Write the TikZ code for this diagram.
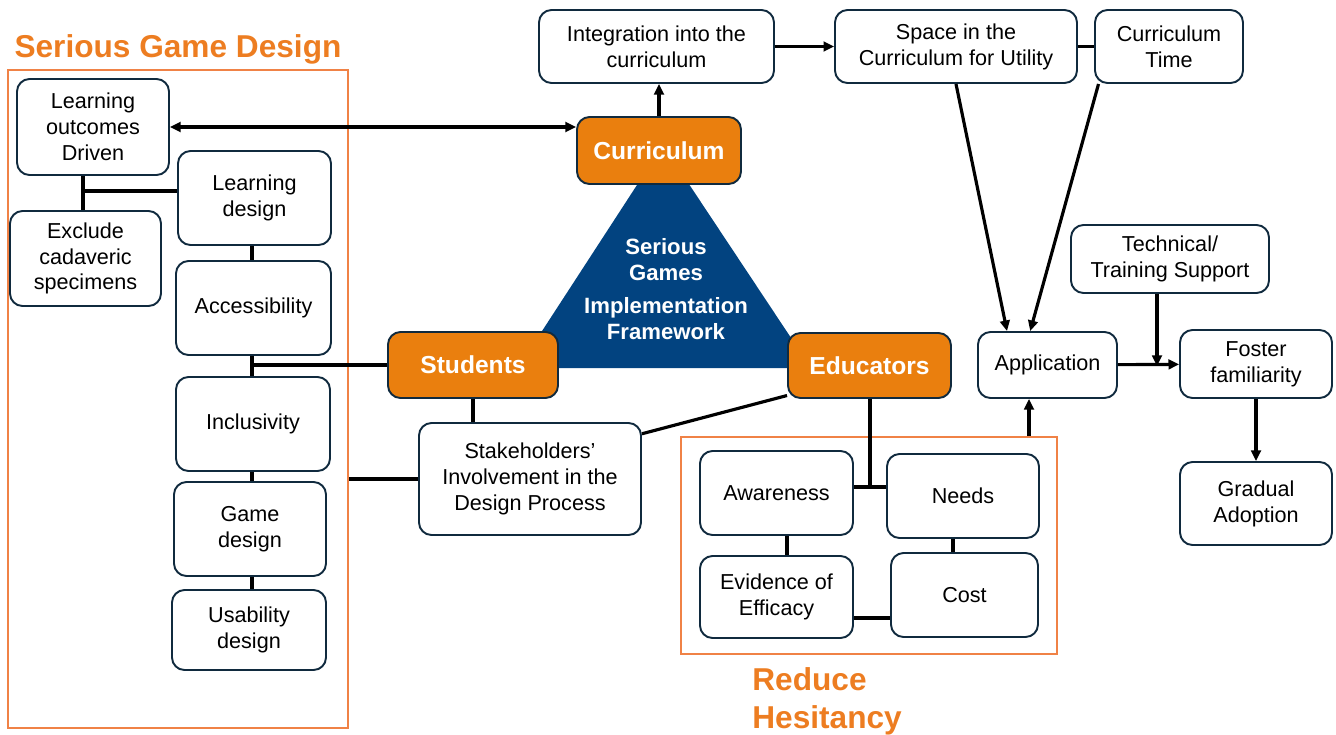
\documentclass[tikz,border=0pt]{standalone}
\usepackage{fontspec}
\setmainfont{Liberation Sans}
\usetikzlibrary{arrows.meta}
\definecolor{boxline}{RGB}{16,42,62}
\definecolor{orangefill}{RGB}{234,127,14}
\definecolor{groupline}{RGB}{240,130,70}
\definecolor{titleorange}{RGB}{237,125,33}
\definecolor{tribg}{RGB}{2,67,128}

\begin{document}
\begin{tikzpicture}[x=0.02cm, y=-0.02cm,
  wh/.style 2 args={minimum width=#1*0.02cm, minimum height=#2*0.02cm},
  box/.style={draw=boxline, line width=1.1pt, rounded corners=0.25cm, fill=white, inner sep=0pt, align=center, font=\fontsize{12.3}{14.7}\selectfont},
  key/.style={box, fill=orangefill, text=white, font=\fontsize{14}{16}\selectfont\bfseries},
  group/.style={draw=groupline, line width=1.1pt, inner sep=0pt},
  title/.style={text=titleorange, font=\fontsize{18}{21.5}\selectfont\bfseries, inner sep=0pt, align=left},
  link/.style={line width=1.8pt},
  arr/.style={link, -{Triangle[length=6pt,width=5.5pt]}}]
  \useasboundingbox (0,0) rectangle (1336,734);

  \node[group, wh={340}{658}] (sgd) at (178,399) {};
  \node[group, wh={376}{217}] (rh) at (869,545.5) {};
  \node[title, anchor=base] (sgdt) at (178,57) {Serious Game Design};
  \node[title, anchor=north west] (rht) at (752,667) {Reduce\\Hesitancy};

  \fill[tribg] (663,145) -- (811,368) -- (518,368) -- cycle;
  \node[text=white, align=center, font=\fontsize{12.6}{14.7}\selectfont\bfseries] (sgi) at (666,289) {Serious\\Games\\[4.5pt]Implementation\\Framework};

  \node[box, wh={152}{96}] (lod) at (93,127) {Learning\\outcomes\\Driven};
  \node[box, wh={151}{95}] (excl) at (85.5,258.5) {Exclude\\cadaveric\\specimens};
  \node[box, wh={153}{94}] (ldes) at (254.5,198) {Learning\\design};
  \node[box, wh={155}{94}] (acc) at (253.5,308) {Accessibility};
  \node[box, wh={154}{94}] (incl) at (253,424) {Inclusivity};
  \node[box, wh={152}{94}] (gdes) at (250,529) {Game\\design};
  \node[box, wh={154}{80}] (udes) at (249,630) {Usability\\design};

  \node[key, wh={164}{67}] (cur) at (659,150.5) {Curriculum};
  \node[key, wh={170}{66}] (stu) at (473,365) {Students};
  \node[key, wh={163}{65}] (edu) at (869.5,365.5) {Educators};
  \node[box, wh={222}{112}] (stk) at (530,479) {Stakeholders’\\Involvement in the\\Design Process};

  \node[box, wh={235}{73}] (integ) at (656.5,46.5) {Integration into the\\curriculum};
  \node[box, wh={242}{73}] (space) at (956,46.5) {Space in the\\Curriculum for Utility};
  \node[box, wh={148}{73}] (ctime) at (1169,46.5) {Curriculum\\Time};
  \node[box, wh={139}{66}] (app) at (1047.5,365) {Application};
  \node[box, wh={198}{68}] (tech) at (1170,259) {Technical/\\Training Support};
  \node[box, wh={152}{68}] (fost) at (1256,364) {Foster\\familiarity};
  \node[box, wh={152}{83}] (grad) at (1256,503.5) {Gradual\\Adoption};

  \node[box, wh={153}{84}] (awa) at (776.5,493) {Awareness};
  \node[box, wh={152}{84}] (need) at (963,496) {Needs};
  \node[box, wh={153}{82}] (evi) at (776.5,597) {Evidence of\\Efficacy};
  \node[box, wh={147}{84}] (cost) at (964.5,595) {Cost};

  \coordinate (j1) at (83,191);
  \coordinate (j2) at (252,365);
  \coordinate (j3) at (870,487);
  \coordinate (j4) at (1157,366);
  \coordinate (j5) at (1029,420);
  \coordinate (k1) at (787,545);
  \coordinate (k2) at (953,545);
  \coordinate (k3) at (870,618);

  \draw[link] (lod.south -| j1) -- (excl.north -| j1);
  \draw[link] (j1) -- (j1 -| ldes.west);
  \draw[link] (ldes.south -| j2) -- (acc.north -| j2);
  \draw[link] (acc.south -| j2) -- (incl.north -| j2);
  \draw[link] (incl.south -| j2) -- (gdes.north -| j2);
  \draw[link] (gdes.south -| j2) -- (udes.north -| j2);
  \draw[link] (j2) -- (stu.west);
  \draw[link, {Triangle[length=6pt,width=5.5pt]}-{Triangle[length=6pt,width=5.5pt]}] (lod.east) -- (lod.east -| cur.west);

  \draw[link] (stu.south) -- (stu.south |- stk.north);
  \draw[link] (stk.west) -- (stk.west -| sgd.east);
  \draw[link] (stk.22) -- (edu.200);
  \draw[link] (edu.south -| j3) -- (j3);
  \draw[link] (awa.east |- j3) -- (need.west |- j3);
  \draw[link] (awa.south -| k1) -- (evi.north -| k1);
  \draw[link] (need.south -| k2) -- (cost.north -| k2);
  \draw[link] (evi.east |- k3) -- (cost.west |- k3);

  \draw[arr] (cur.north) -- (cur.north |- integ.south);
  \draw[arr] (integ) -- (space);
  \draw[link] (space) -- (ctime);
  \draw[arr] (space.south) -- (app.140);
  \draw[arr] (ctime.208) -- (app.117);
  \draw[arr] (rh.north -| j5) -- (app.south -| j5);
  \draw[arr] (app) -- (fost);
  \draw[arr] (tech.south -| j4) -- (j4);
  \draw[arr] (fost) -- (grad);
\end{tikzpicture}
\end{document}
